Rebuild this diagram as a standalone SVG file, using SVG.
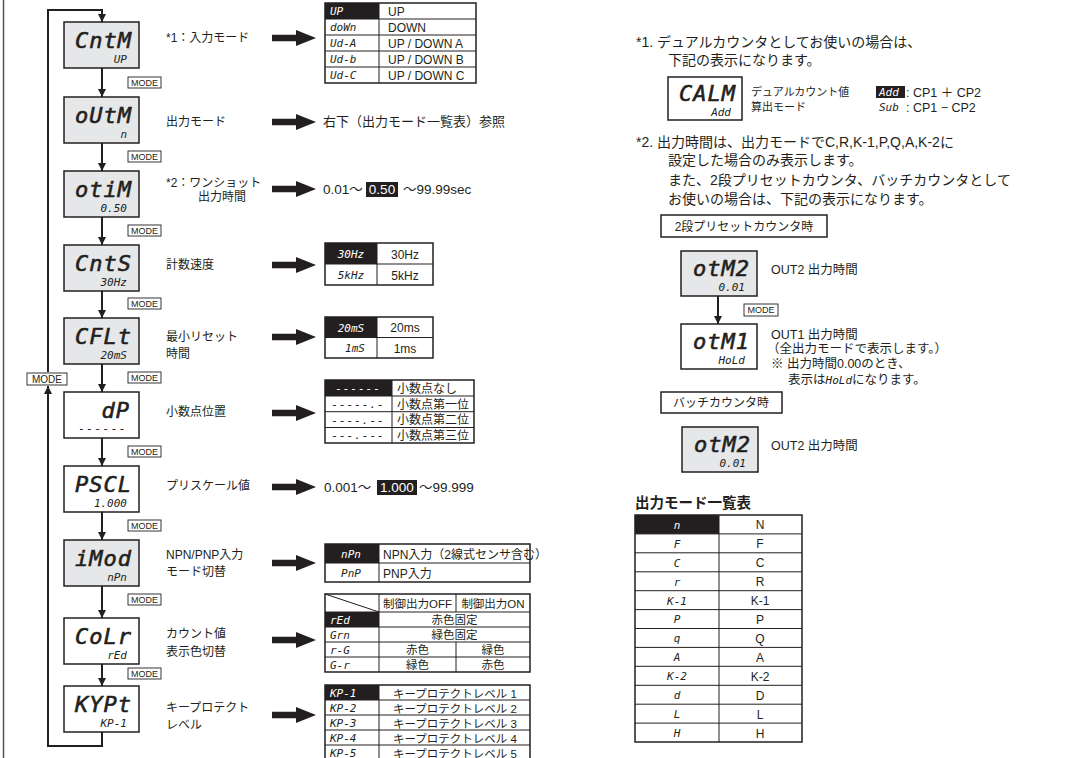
<svg xmlns="http://www.w3.org/2000/svg" width="1067" height="758" viewBox="0 0 1067 758">
<defs>
<style>
.t{font-family:"Liberation Sans","Noto Sans CJK JP",sans-serif;fill:#231f20}
.j{font-family:"Noto Sans CJK JP",sans-serif;fill:#231f20}
.lcd{font-family:"DejaVu Sans Mono",monospace;font-style:oblique;font-weight:normal;fill:#231f20}
.big{font-size:22px;text-anchor:end;letter-spacing:1px;stroke:#231f20;stroke-width:0.6}
.sm{font-size:11px;text-anchor:end}
.cg{font-size:11px}
.w{fill:#fff}
.box{stroke:#231f20;stroke-width:1.5}
.gray{fill:#e6e7e8}
.white{fill:#fff}
.ln{stroke:#231f20;stroke-width:2;fill:none}
.tb{fill:#fff;stroke:#231f20;stroke-width:1.5}
.gl{stroke:#231f20;stroke-width:1}
.blk{fill:#231f20}
.mode rect{fill:#fff;stroke:#231f20;stroke-width:0.9}
.mode text{font-family:"Liberation Sans",sans-serif;font-size:9px;fill:#231f20;text-anchor:middle}
.mid{text-anchor:middle}
</style>
<marker id="ah" markerWidth="8" markerHeight="8" refX="8" refY="4" orient="auto" markerUnits="userSpaceOnUse"><path d="M0,0 L8,4 L0,8 z" fill="#231f20"/></marker>
<path id="bigarrow" d="M0,-3.2 H24 V-8 L44,0 L24,8 V3.2 H0 z" fill="#231f20"/>
</defs>
<rect width="1067" height="758" fill="#fff"/>
<line x1="3.5" y1="0" x2="3.5" y2="758" stroke="#555" stroke-width="1.5"/>

<g id="connectors">
<path class="ln" d="M102,68 V97" marker-end="url(#ah)"/>
<path class="ln" d="M102,143 V171" marker-end="url(#ah)"/>
<path class="ln" d="M102,217 V245" marker-end="url(#ah)"/>
<path class="ln" d="M102,291 V318" marker-end="url(#ah)"/>
<path class="ln" d="M102,364 V392" marker-end="url(#ah)"/>
<path class="ln" d="M102,438 V466" marker-end="url(#ah)"/>
<path class="ln" d="M102,512 V540" marker-end="url(#ah)"/>
<path class="ln" d="M102,586 V618" marker-end="url(#ah)"/>
<path class="ln" d="M102,664 V686" marker-end="url(#ah)"/>
<path class="ln" d="M102,732 V746 H48 V386" marker-end="url(#ah)" stroke-width="2.5"/>
<path class="ln" d="M48,372 V10 H102 V22" marker-end="url(#ah)" stroke-width="2.5"/>
<path class="ln" d="M718,296 V324" marker-end="url(#ah)"/>
<use href="#bigarrow" x="272" y="38"/>
<use href="#bigarrow" x="272" y="122"/>
<use href="#bigarrow" x="272" y="189"/>
<use href="#bigarrow" x="272" y="265"/>
<use href="#bigarrow" x="272" y="337"/>
<use href="#bigarrow" x="272" y="413"/>
<use href="#bigarrow" x="272" y="487"/>
<use href="#bigarrow" x="272" y="563"/>
<use href="#bigarrow" x="272" y="640"/>
<use href="#bigarrow" x="272" y="715"/>
<g class="mode"><rect x="27" y="373" width="40" height="12"/><text x="47" y="382.5" style="font-size:10px">MODE</text></g>
<g class="mode"><rect x="128" y="77" width="33" height="11"/><text x="144.5" y="85.5">MODE</text></g>
<g class="mode"><rect x="128" y="151" width="33" height="11"/><text x="144.5" y="159.5">MODE</text></g>
<g class="mode"><rect x="128" y="225" width="33" height="11"/><text x="144.5" y="233.5">MODE</text></g>
<g class="mode"><rect x="128" y="298" width="33" height="11"/><text x="144.5" y="306.5">MODE</text></g>
<g class="mode"><rect x="128" y="372" width="33" height="11"/><text x="144.5" y="380.5">MODE</text></g>
<g class="mode"><rect x="128" y="446" width="33" height="11"/><text x="144.5" y="454.5">MODE</text></g>
<g class="mode"><rect x="128" y="520" width="33" height="11"/><text x="144.5" y="528.5">MODE</text></g>
<g class="mode"><rect x="128" y="594" width="33" height="11"/><text x="144.5" y="602.5">MODE</text></g>
<g class="mode"><rect x="128" y="668" width="33" height="11"/><text x="144.5" y="676.5">MODE</text></g>
<g class="mode"><rect x="744" y="304" width="34" height="12"/><text x="761" y="313">MODE</text></g>
</g>

<g id="node-cntm"><rect class="box gray" x="64" y="22" width="75" height="46"/><text class="lcd big" x="132" y="48">CntM</text><text class="lcd sm" x="127" y="63">UP</text></g>
<g id="node-outm"><rect class="box gray" x="64" y="97" width="75" height="46"/><text class="lcd big" x="132" y="123">oUtM</text><text class="lcd sm" x="127" y="138">n</text></g>
<g id="node-otim"><rect class="box gray" x="64" y="171" width="75" height="46"/><text class="lcd big" x="132" y="197">otiM</text><text class="lcd sm" x="127" y="212">0.50</text></g>
<g id="node-cnts"><rect class="box gray" x="64" y="245" width="75" height="46"/><text class="lcd big" x="132" y="271">CntS</text><text class="lcd sm" x="127" y="286">30Hz</text></g>
<g id="node-cflt"><rect class="box gray" x="64" y="318" width="75" height="46"/><text class="lcd big" x="132" y="344">CFLt</text><text class="lcd sm" x="127" y="359">20mS</text></g>
<g id="node-dp"><rect class="box white" x="64" y="392" width="75" height="46"/><text class="lcd big" x="130" y="418">dP</text><text class="lcd sm" x="127" y="432" style="letter-spacing:1.5px">------</text></g>
<g id="node-pscl"><rect class="box white" x="64" y="466" width="75" height="46"/><text class="lcd big" x="132" y="492">PSCL</text><text class="lcd sm" x="127" y="507">1.000</text></g>
<g id="node-imod"><rect class="box gray" x="64" y="540" width="75" height="46"/><text class="lcd big" x="132" y="566">iMod</text><text class="lcd sm" x="127" y="581">nPn</text></g>
<g id="node-colr"><rect class="box white" x="64" y="618" width="75" height="46"/><text class="lcd big" x="132" y="644">CoLr</text><text class="lcd sm" x="127" y="659">rEd</text></g>
<g id="node-kypt"><rect class="box white" x="64" y="686" width="75" height="46"/><text class="lcd big" x="132" y="712">KYPt</text><text class="lcd sm" x="127" y="727">KP-1</text></g>

<g id="labels" class="t" font-size="12">
<text x="166" y="42">*1：入力モード</text>
<text x="166" y="126">出力モード</text>
<text x="166" y="187">*2：ワンショット</text>
<text x="198" y="201">出力時間</text>
<text x="166" y="269">計数速度</text>
<text x="166" y="341">最小リセット</text>
<text x="166" y="358">時間</text>
<text x="166" y="416">小数点位置</text>
<text x="166" y="490">プリスケール値</text>
<text x="166" y="559">NPN/PNP入力</text>
<text x="166" y="576">モード切替</text>
<text x="166" y="638">カウント値</text>
<text x="166" y="656">表示色切替</text>
<text x="166" y="712">キープロテクト</text>
<text x="166" y="729">レベル</text>
</g>

<g id="tbl-input">
<rect class="tb" x="325" y="3" width="151" height="80"/>
<rect class="blk" x="325" y="3" width="54" height="16"/>
<path class="gl" d="M325,19H476M325,35H476M325,51H476M325,67H476M379,3V83"/>
<g class="lcd cg"><text class="w" x="330" y="15">UP</text><text x="330" y="31">doWn</text><text x="330" y="47">Ud-A</text><text x="330" y="63">Ud-b</text><text x="330" y="79">Ud-C</text></g>
<g class="t" font-size="12"><text x="388" y="15.5">UP</text><text x="388" y="31.5">DOWN</text><text x="388" y="47.5">UP / DOWN A</text><text x="388" y="63.5">UP / DOWN B</text><text x="388" y="79.5">UP / DOWN C</text></g>
</g>

<g id="txt-outmode"><text class="t" x="323" y="126" font-size="13">右下（出力モード一覧表）参照</text></g>

<g id="txt-otim" class="t" font-size="13.5">
<text x="323" y="194">0.01～</text>
<rect class="blk" x="366" y="182" width="32" height="15"/>
<text class="w" x="382" y="194" text-anchor="middle">0.50</text>
<text x="403" y="194">～99.99sec</text>
</g>

<g id="tbl-speed">
<rect class="tb" x="325" y="243" width="108" height="42"/>
<rect class="blk" x="325" y="243" width="52" height="21"/>
<path class="gl" d="M325,264H433M377,243V285"/>
<text class="lcd cg w mid" x="351" y="258">30Hz</text><text class="lcd cg mid" x="351" y="279">5kHz</text>
<text class="t mid" font-size="12" x="405" y="258.5">30Hz</text><text class="t mid" font-size="12" x="405" y="279.5">5kHz</text>
</g>

<g id="tbl-reset">
<rect class="tb" x="325" y="317" width="108" height="41"/>
<rect class="blk" x="325" y="317" width="52" height="20.5"/>
<path class="gl" d="M325,337.5H433M377,317V358"/>
<text class="lcd cg w mid" x="351" y="332">20mS</text><text class="lcd cg mid" x="355" y="352">1mS</text>
<text class="t mid" font-size="12" x="405" y="332">20ms</text><text class="t mid" font-size="12" x="405" y="352.5">1ms</text>
</g>

<g id="tbl-dp">
<rect class="tb" x="325" y="380" width="149" height="63"/>
<rect class="blk" x="325" y="380" width="67" height="16"/>
<path class="gl" d="M325,396H474M325,411.7H474M325,427.5H474M392,380V443"/>
<g class="lcd cg mid" style="letter-spacing:1px"><text class="w" x="358" y="392">------</text><text x="358" y="408">-----.-</text><text x="358" y="424">----.--</text><text x="358" y="439">---.---</text></g>
<g class="j" font-size="12"><text x="397" y="392.5">小数点なし</text><text x="397" y="408.5">小数点第一位</text><text x="397" y="424">小数点第二位</text><text x="397" y="439.5">小数点第三位</text></g>
</g>

<g id="txt-pscl" class="t" font-size="13.5">
<text x="324" y="492">0.001～</text>
<rect class="blk" x="377" y="480" width="40" height="15"/>
<text class="w" x="397" y="492" text-anchor="middle">1.000</text>
<text x="419" y="492">～99.999</text>
</g>

<g id="tbl-npn">
<rect class="tb" x="325" y="544" width="205" height="38"/>
<rect class="blk" x="325" y="544" width="54" height="19"/>
<path class="gl" d="M325,563H530M379,544V582"/>
<text class="lcd cg w mid" x="351" y="558">nPn</text><text class="lcd cg mid" x="351" y="577">PnP</text>
<text class="t" font-size="12" x="383" y="558.5">NPN入力（2線式センサ含む）</text><text class="t" font-size="12" x="383" y="577.5">PNP入力</text>
</g>

<g id="tbl-color">
<rect class="tb" x="325" y="594" width="205" height="78"/>
<rect class="blk" x="325" y="612" width="54" height="15"/>
<path class="gl" d="M325,612H530M325,627H530M325,642H530M325,657H530M379,594V672M456,594V612M456,642V672M325,594L379,612"/>
<g class="lcd cg"><text class="w" x="330" y="624">rEd</text><text x="330" y="639">Grn</text><text x="330" y="654">r-G</text><text x="330" y="669">G-r</text></g>
<g class="t mid" font-size="11.5"><text x="417.5" y="607.5">制御出力OFF</text><text x="493" y="607.5">制御出力ON</text><text x="454.5" y="624">赤色固定</text><text x="454.5" y="639">緑色固定</text><text x="417.5" y="654">赤色</text><text x="493" y="654">緑色</text><text x="417.5" y="669">緑色</text><text x="493" y="669">赤色</text></g>
</g>

<g id="tbl-keyprotect">
<rect class="tb" x="325" y="685" width="205" height="75"/>
<rect class="blk" x="325" y="685" width="54" height="15"/>
<path class="gl" d="M325,700H530M325,715H530M325,730H530M325,745H530M379,685V760"/>
<g class="lcd cg"><text class="w" x="330" y="697">KP-1</text><text x="330" y="712">KP-2</text><text x="330" y="727">KP-3</text><text x="330" y="742">KP-4</text><text x="330" y="757">KP-5</text></g>
<g class="t mid" font-size="11.5"><text x="455" y="697.5">キープロテクトレベル 1</text><text x="455" y="712.5">キープロテクトレベル 2</text><text x="455" y="727.5">キープロテクトレベル 3</text><text x="455" y="742.5">キープロテクトレベル 4</text><text x="455" y="757.5">キープロテクトレベル 5</text></g>
</g>

<g id="note1" class="t" font-size="14">
<text x="636" y="47">*1. デュアルカウンタとしてお使いの場合は、</text>
<text x="668" y="65">下記の表示になります。</text>
</g>
<g id="node-calm"><rect class="box white" x="668" y="77" width="74" height="43"/><text class="lcd big" x="736" y="101">CALM</text><text class="lcd sm" x="731" y="116">Add</text></g>
<g id="calm-desc">
<text class="t" font-size="11" x="751" y="96">デュアルカウント値</text>
<text class="t" font-size="11" x="751" y="111">算出モード</text>
<rect class="blk" x="876" y="86" width="29" height="12"/>
<text class="lcd cg w" x="879" y="96">Add</text>
<text class="lcd cg" x="879" y="111">Sub</text>
<text class="t" font-size="12.5" x="906" y="96.5">: CP1 ＋ CP2</text>
<text class="t" font-size="12.5" x="906" y="111.5">: CP1 − CP2</text>
</g>

<g id="note2" class="t" font-size="14">
<text x="636" y="147">*2. 出力時間は、出力モードでC,R,K-1,P,Q,A,K-2に</text>
<text x="668" y="165">設定した場合のみ表示します。</text>
<text x="668" y="185">また、2段プリセットカウンタ、バッチカウンタとして</text>
<text x="668" y="204">お使いの場合は、下記の表示になります。</text>
</g>

<g id="box-2stage"><rect class="tb" x="661" y="215" width="166" height="22" stroke-width="1.2"/><text class="t mid" font-size="12" x="744" y="230.5">2段プリセットカウンタ時</text></g>
<g id="node-otm2"><rect class="box gray" x="681" y="251" width="76" height="45"/><text class="lcd big" x="750" y="276">otM2</text><text class="lcd sm" x="745" y="291">0.01</text><text class="t" font-size="12.5" x="771" y="273.5">OUT2 出力時間</text></g>
<g id="node-otm1"><rect class="box white" x="681" y="324" width="76" height="45"/><text class="lcd big" x="750" y="349">otM1</text><text class="lcd sm" x="745" y="364">HoLd</text>
<g class="t" font-size="12.5"><text x="771" y="338.5">OUT1 出力時間</text><text x="767" y="353">（全出力モードで表示します。）</text><text x="771" y="368">※ 出力時間0.00のとき、</text><text x="788" y="383.5">表示は<tspan class="lcd" font-size="11">HoLd</tspan>になります。</text></g></g>
<g id="box-batch"><rect class="tb" x="661" y="392" width="121" height="21" stroke-width="1.2"/><text class="t mid" font-size="12" x="721" y="407">バッチカウンタ時</text></g>
<g id="node-otm2b"><rect class="box gray" x="682" y="427" width="76" height="45"/><text class="lcd big" x="751" y="452">otM2</text><text class="lcd sm" x="746" y="467">0.01</text><text class="t" font-size="12.5" x="771" y="449.5">OUT2 出力時間</text></g>

<g id="tbl-outmode">
<text class="j" font-size="14.5" font-weight="bold" x="635" y="508">出力モード一覧表</text>
<rect class="tb" x="635" y="515" width="167" height="227"/>
<rect class="blk" x="635" y="515" width="84" height="18.9"/>
<path class="gl" d="M635,533.9H802M635,552.8H802M635,571.8H802M635,590.7H802M635,609.6H802M635,628.5H802M635,647.4H802M635,666.3H802M635,685.3H802M635,704.2H802M635,723.1H802M719,515V742"/>
<g class="lcd cg mid"><text class="w" x="677" y="528.5">n</text><text x="677" y="547.5">F</text><text x="677" y="566.5">C</text><text x="677" y="585.5">r</text><text x="677" y="604.5">K-1</text><text x="677" y="623">P</text><text x="677" y="642">q</text><text x="677" y="661">A</text><text x="677" y="680">K-2</text><text x="677" y="699">d</text><text x="677" y="718">L</text><text x="677" y="737">H</text></g>
<g class="t mid" font-size="12"><text x="760" y="529">N</text><text x="760" y="548">F</text><text x="760" y="567">C</text><text x="760" y="586">R</text><text x="760" y="605">K-1</text><text x="760" y="623.5">P</text><text x="760" y="642.5">Q</text><text x="760" y="661.5">A</text><text x="760" y="680.5">K-2</text><text x="760" y="699.5">D</text><text x="760" y="718.5">L</text><text x="760" y="737.5">H</text></g>
</g>
</svg>
